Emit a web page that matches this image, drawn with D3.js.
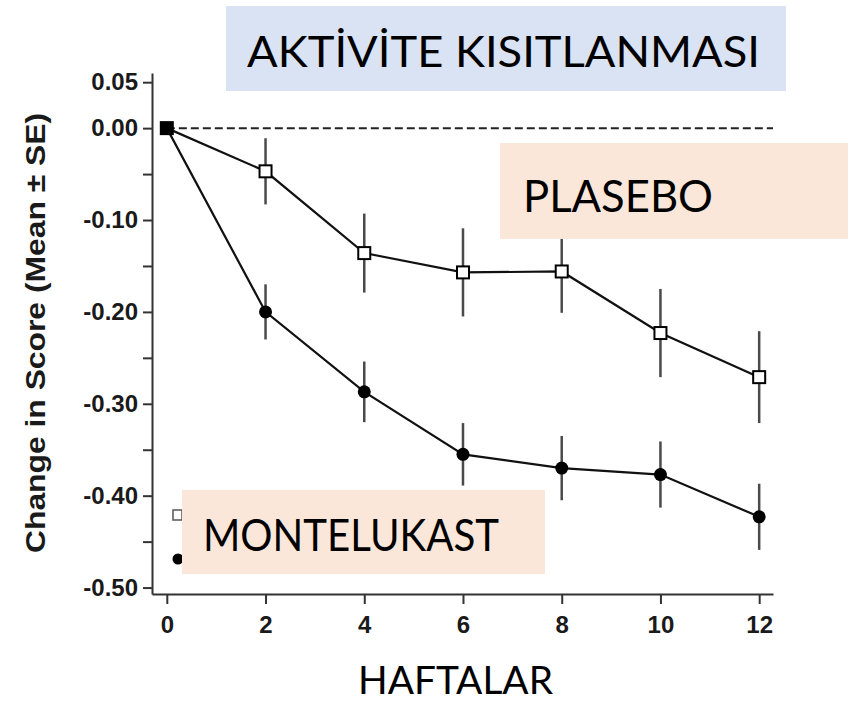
<!DOCTYPE html>
<html>
<head>
<meta charset="utf-8">
<script src="https://cdn.jsdelivr.net/npm/d3@7/dist/d3.min.js"></script>
<style>
  body { margin: 0; background: #fff; }
  svg { display: block; }
</style>
</head>
<body>
<script>

/******** Data *********/

var weeks = [0, 2, 4, 6, 8, 10, 12]
var placeboMean = [0, -0.047, -0.136, -0.157, -0.156, -0.223, -0.271]
var placeboSE = [0, 0.036, 0.043, 0.048, 0.045, 0.048, 0.050]
var montelukastMean = [0, -0.200, -0.287, -0.355, -0.370, -0.377, -0.423]
var montelukastSE = [0, 0.030, 0.033, 0.034, 0.035, 0.036, 0.036]

var xTicks = [0, 2, 4, 6, 8, 10, 12]
var yTicks = [0.05, 0, -0.05, -0.10, -0.15, -0.20, -0.25, -0.30, -0.35, -0.40, -0.45, -0.50]
var yLabeled = [0.05, 0, -0.10, -0.20, -0.30, -0.40, -0.50]

var titleText = "AKTİVİTE KISITLANMASI"
var xTitle = "HAFTALAR"
var yTitle = "Change in Score (Mean ± SE)"
var placeboLabel = "PLASEBO"
var montelukastLabel = "MONTELUKAST"

var placebo = weeks.map(function(w, i){ return {week: w, mean: placeboMean[i], se: placeboSE[i]} })
var montelukast = weeks.map(function(w, i){ return {week: w, mean: montelukastMean[i], se: montelukastSE[i]} })

/******** Setup *********/

var width = 850, height = 702

var svg = d3.select("body")
  .append("svg")
    .attr("width", width)
    .attr("height", height)

var x = d3.scaleLinear()
  .domain([-0.3, 12.28])
  .range([152, 773])

var y = d3.scaleLinear()
  .domain([-0.507, 0.06])
  .range([594, 73])

var fmt = function(v){
  if (yLabeled.some(function(l){ return Math.abs(l - v) < 1e-9 })) {
    return d3.format(".2f")(v).replace("\u2212", "-")
  }
  return ""
}

/******** Axes *********/

var axisFont = "'Liberation Sans', Arial, sans-serif"

var yAxis = svg.append("g")
  .attr("transform", "translate(152,0)")
  .call(d3.axisLeft(y).tickValues(yTicks).tickFormat(fmt).tickSize(9).tickPadding(5).tickSizeOuter(0))

var xAxis = svg.append("g")
  .attr("transform", "translate(0,594)")
  .call(d3.axisBottom(x).tickValues(xTicks).tickSize(10).tickPadding(12).tickSizeOuter(0))

svg.selectAll(".domain").attr("stroke", "#333").attr("stroke-width", 2)
svg.selectAll(".tick line").attr("stroke", "#333").attr("stroke-width", 2)
svg.selectAll(".tick text")
  .attr("font-family", axisFont)
  .attr("font-weight", "bold")
  .attr("font-size", "24px")
  .attr("fill", "#1a1a1a")

svg.append("text")
  .attr("transform", "translate(45,333) rotate(-90)")
  .attr("text-anchor", "middle")
  .attr("font-family", axisFont)
  .attr("font-weight", "bold")
  .attr("font-size", "28px")
  .attr("fill", "#1a1a1a")
  .attr("textLength", 440)
  .attr("lengthAdjust", "spacingAndGlyphs")
  .text(yTitle)

/******** Zero line *********/

svg.append("line")
  .attr("x1", x(0))
  .attr("x2", x(12.28))
  .attr("y1", y(0))
  .attr("y2", y(0))
  .attr("stroke", "#222")
  .attr("stroke-width", 2)
  .attr("stroke-dasharray", "8,4")

/******** Series *********/

var line = d3.line()
  .x(function(d){ return x(d.week) })
  .y(function(d){ return y(d.mean) })

function errorBars(data){
  svg.append("g")
    .selectAll("line")
    .data(data.filter(function(d){ return d.se > 0 }))
    .enter()
    .append("line")
      .attr("x1", function(d){ return x(d.week) })
      .attr("x2", function(d){ return x(d.week) })
      .attr("y1", function(d){ return y(d.mean + d.se) })
      .attr("y2", function(d){ return y(d.mean - d.se) })
      .attr("stroke", "#4a4a4a")
      .attr("stroke-width", 2.5)
}

errorBars(placebo)
errorBars(montelukast)

svg.append("path")
  .attr("d", line(placebo))
  .attr("fill", "none")
  .attr("stroke", "#111")
  .attr("stroke-width", 2.2)

svg.append("path")
  .attr("d", line(montelukast))
  .attr("fill", "none")
  .attr("stroke", "#111")
  .attr("stroke-width", 2.2)

svg.append("g")
  .selectAll("circle")
  .data(montelukast)
  .enter()
  .append("circle")
    .attr("cx", function(d){ return x(d.week) })
    .attr("cy", function(d){ return y(d.mean) })
    .attr("r", 6.5)
    .attr("fill", "#000")

var sq = 12
svg.append("g")
  .selectAll("rect")
  .data(placebo)
  .enter()
  .append("rect")
    .attr("x", function(d){ return x(d.week) - sq / 2 })
    .attr("y", function(d){ return y(d.mean) - sq / 2 })
    .attr("width", sq)
    .attr("height", sq)
    .attr("fill", function(d){ return d.week === 0 ? "#000" : "#fff" })
    .attr("stroke", "#000")
    .attr("stroke-width", 2)

/******** Legend remnants (under the label box) *********/

var legend = svg.append("g").attr("transform", "translate(177,515)")
legend.append("rect")
  .attr("x", -4).attr("y", -5)
  .attr("width", 9).attr("height", 10)
  .attr("fill", "#fff")
  .attr("stroke", "#555")
  .attr("stroke-width", 1.5)
legend.append("circle")
  .attr("cx", 1).attr("cy", 44)
  .attr("r", 5.5)
  .attr("fill", "#000")

/******** Label boxes *********/

var boxFont = "Lato, 'Open Sans', sans-serif"

function labelBox(bx, by, bw, bh, fill, tx, ty, tw, size, txt){
  svg.append("rect")
    .attr("x", bx).attr("y", by)
    .attr("width", bw).attr("height", bh)
    .attr("fill", fill)
  svg.append("text")
    .attr("x", tx).attr("y", ty)
    .attr("font-family", boxFont)
    .attr("font-size", size + "px")
    .attr("fill", "#000")
    .attr("textLength", tw)
    .attr("lengthAdjust", "spacingAndGlyphs")
    .text(txt)
}

labelBox(226, 6, 560, 85, "#dae3f3", 247, 67, 513, 43, titleText)
labelBox(500, 143, 348, 96, "#fbe7d9", 523, 212, 190, 45, placeboLabel)
labelBox(182, 490, 363, 84, "#fbe7d9", 203, 551, 296, 44, montelukastLabel)

svg.append("text")
  .attr("x", 358).attr("y", 694)
  .attr("font-family", boxFont)
  .attr("font-size", "39px")
  .attr("fill", "#000")
  .attr("textLength", 195)
  .attr("lengthAdjust", "spacingAndGlyphs")
  .text(xTitle)

</script>
</body>
</html>
